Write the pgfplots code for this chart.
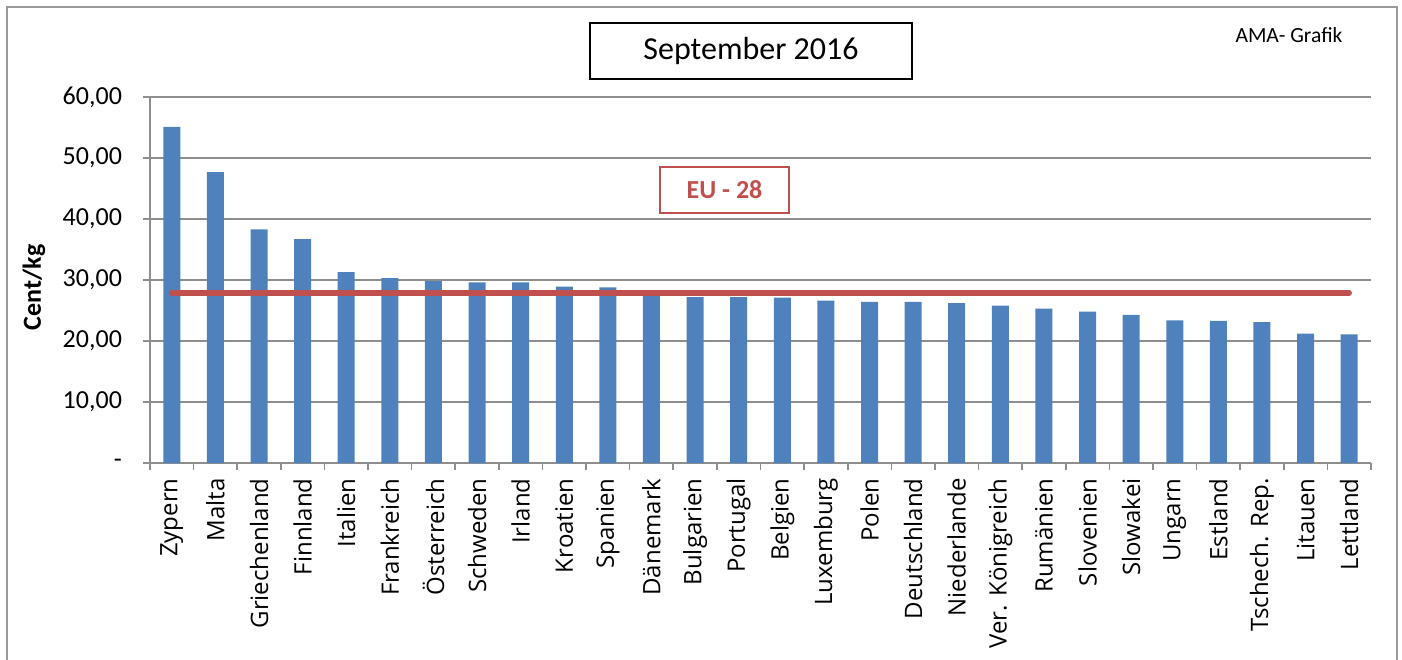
\documentclass[border=0pt]{standalone}
\usepackage{fontspec}
\setmainfont{Carlito}
\newfontfamily\opensans{Open Sans}
\usepackage{pgfplots}
\pgfplotsset{compat=1.18}
\definecolor{BarBlue}{HTML}{4F81BD}
\definecolor{EURed}{HTML}{C0504D}
\definecolor{GridGray}{HTML}{8E8E8E}
\definecolor{FrameGray}{HTML}{9A9A9A}

\pgfplotstableread{
x  val
0  55.1
1  47.7
2  38.3
3  36.7
4  31.3
5  30.3
6  29.8
7  29.6
8  29.6
9  28.9
10 28.8
11 27.7
12 27.2
13 27.2
14 27.1
15 26.6
16 26.4
17 26.4
18 26.2
19 25.8
20 25.3
21 24.8
22 24.3
23 23.4
24 23.3
25 23.1
26 21.2
27 21.1
}\prices

\begin{document}
\begin{tikzpicture}
\useasboundingbox (0,0) rectangle (701pt,329.5pt);
\draw[FrameGray, line width=0.8pt] (3.5pt,-5pt) rectangle (698.5pt,326pt);
\begin{axis}[
  at={(75pt,98pt)}, anchor=south west,
  scale only axis,
  width=610.5pt, height=183pt,
  xmin=-0.5, xmax=27.5,
  ymin=0, ymax=60,
  ytick={0,10,...,60},
  yticklabels={{-},{10,00},{20,00},{30,00},{40,00},{50,00},{60,00}},
  xtick={-0.5,0.5,...,27.5},
  xticklabels={},
  extra x ticks={0,1,...,27},
  extra x tick labels={Zypern,Malta,Griechenland,Finnland,Italien,Frankreich,Österreich,Schweden,Irland,Kroatien,Spanien,Dänemark,Bulgarien,Portugal,Belgien,Luxemburg,Polen,Deutschland,Niederlande,{Ver. Königreich},Rumänien,Slovenien,Slowakei,Ungarn,Estland,{Tschech. Rep.},Litauen,Lettland},
  extra x tick style={major tick length=0pt, grid=none,
    xticklabel style={rotate=90, anchor=east, font=\opensans\fontsize{12}{14}\selectfont, inner sep=0pt, inner xsep=7.5pt}},
  axis x line*=bottom, axis y line*=left,
  axis line style={GridGray, line width=0.8pt},
  tick style={GridGray, line width=0.8pt},
  tick align=outside,
  major tick length=3.5pt,
  ymajorgrids,
  grid style={GridGray, line width=0.8pt},
  yticklabel style={font=\fontsize{13}{15}\selectfont, xshift=-7pt},
  /pgf/number format/assume math mode=true,
  ylabel={\bfseries Cent/kg},
  ylabel style={at={(axis description cs:-0.095,0.48)}, anchor=center, rotate=0, font=\fontsize{13}{15}\selectfont},
  clip=false,
]
\addplot[ybar, bar width=8.5pt, fill=BarBlue, draw=none] table[x=x, y=val] {\prices};
\addplot[EURed, line width=2.7pt, line cap=round] coordinates {(0,27.9) (27,27.9)};
\end{axis}
\node[draw=black, line width=1pt, minimum width=161pt, minimum height=28pt, font=\fontsize{16}{19}\selectfont] at (375.5pt,304pt) {September 2016};
\node[font=\fontsize{10.8}{13}\selectfont] at (644.5pt,312pt) {AMA- Grafik};
\node[draw=EURed, line width=1.3pt, minimum width=64.5pt, minimum height=23pt, text=EURed, font=\bfseries\fontsize{13}{15}\selectfont] at (362.25pt,234.5pt) {EU - 28};
\end{tikzpicture}
\end{document}
